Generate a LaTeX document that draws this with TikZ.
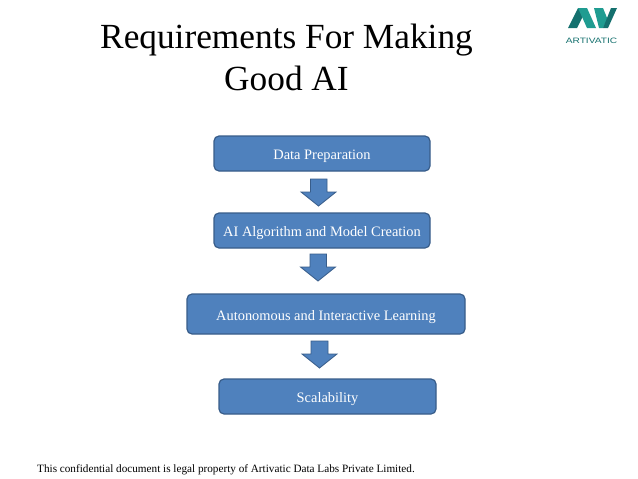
\documentclass[tikz,border=0pt]{standalone}
\usepackage{fontspec}
\setmainfont{Liberation Serif}
\newfontfamily\logofont{Liberation Sans}
\definecolor{boxfill}{HTML}{4F81BD}
\definecolor{boxline}{HTML}{385D8A}
\definecolor{logoteal}{HTML}{1F9C91}
\definecolor{logodark}{HTML}{14706E}
\begin{document}
\begin{tikzpicture}[x=1pt,y=-1pt,
  flowbox/.style={draw=boxline,line width=1.2pt,fill=boxfill,rounded corners=5pt,inner sep=0pt,text=white,text height=12pt,text depth=0pt,font=\fontsize{14.4}{16}\selectfont},
  downarrow/.style={draw=boxline,line width=0.8pt,fill=boxfill,line join=miter}]
\useasboundingbox (0,0) rectangle (638,479);
\fill[white] (0,0) rectangle (638,479);
\node[font=\fontsize{35.3}{42}\selectfont,align=center,anchor=center] (title) at (286.5,57) {Requirements For Making\\Good AI};
\node[flowbox,minimum width=216pt,minimum height=35pt] (a) at (322,153.5) {Data Preparation};
\node[flowbox,minimum width=216pt,minimum height=35pt] (b) at (322,230.5) {AI Algorithm and Model Creation};
\node[flowbox,minimum width=278pt,minimum height=40pt] (c) at (326,314) {Autonomous and Interactive Learning};
\node[flowbox,minimum width=217pt,minimum height=35pt] (d) at (327.5,396.5) {Scalability};
\draw[downarrow] (310.5,179)--(327,179)--(327,192)--(336,192)--(318.5,206)--(301,192)--(310.5,192)--cycle;
\draw[downarrow] (310,254)--(326.5,254)--(326.5,267)--(335.5,267)--(318,281)--(300.5,267)--(310,267)--cycle;
\draw[downarrow] (311,341)--(328,341)--(328,354)--(337,354)--(319.5,368)--(302,354)--(311,354)--cycle;
\node[anchor=west,inner sep=0pt,font=\fontsize{11.2}{13}\selectfont] (foot) at (37,469.5) {This confidential document is legal property of Artivatic Data Labs Private Limited.};
% logo
\fill[logodark] (568,28)--(578,8)--(587,8)--(577,28)--cycle;
\fill[logoteal] (578,8)--(587,8)--(596,28)--(587,28)--cycle;
\fill[logoteal] (594,8)--(603,8)--(607.5,19)--(603,28)--(599,28)--cycle;
\fill[logodark] (603,28)--(611,8)--(617,8)--(608,28)--cycle;
\node[font=\logofont\fontsize{7.8}{9}\selectfont,text=logodark,inner sep=0pt,xscale=1.3] (logo) at (591.5,41) {ARTIVATIC};
\end{tikzpicture}
\end{document}
